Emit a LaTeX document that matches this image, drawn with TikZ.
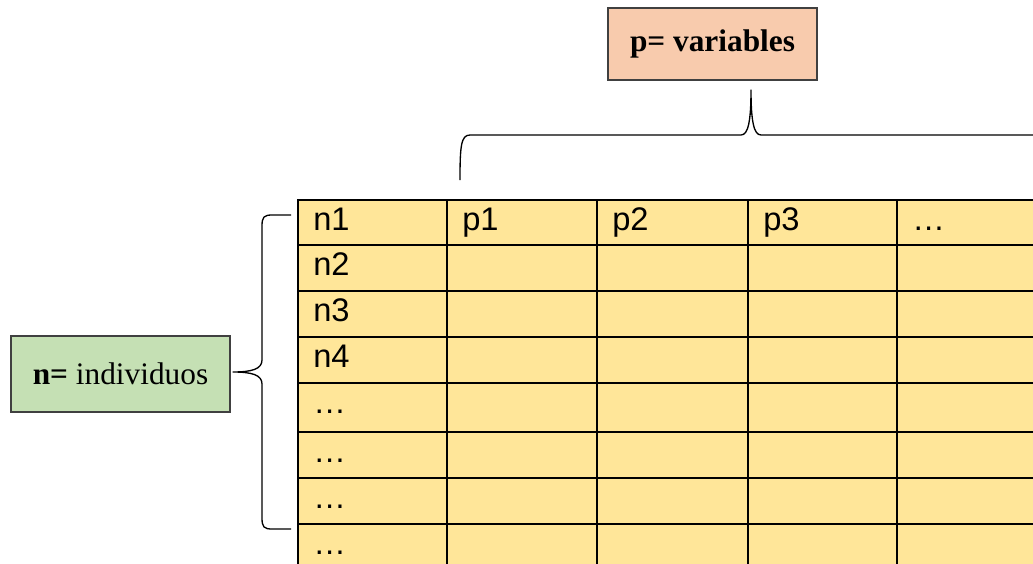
\documentclass[tikz,border=0pt]{standalone}
\usepackage{fontspec}
\setmainfont{Liberation Serif}
\setsansfont{Liberation Sans}
\usepackage{tikz}
\usetikzlibrary{
    arrows.meta,
    positioning
}
\usepackage{xcolor}
\definecolor{cellyellow}{RGB}{255,230,153}
\definecolor{boxgreen}{RGB}{197,224,180}
\definecolor{boxpeach}{RGB}{248,203,173}
\definecolor{boxedge}{RGB}{64,64,64}

\tikzset{
    labelbox/.style={draw=boxedge, line width=0.8pt, inner sep=0pt,
        font=\fontsize{23.5}{28}\selectfont},
    celltext/.style={anchor=base west, inner sep=0pt,
        font=\sffamily\fontsize{24.5}{29}\selectfont},
    gridline/.style={line width=1.8pt},
    curly/.style={line width=1pt, line join=round}
}

\begin{document}
\begin{tikzpicture}[x=0.75pt, y=-0.75pt]
\useasboundingbox (0,0) rectangle (1033,564);
\clip (0,0) rectangle (1033,564);

% Table (runs off the right and bottom)
\fill[cellyellow] (298,200) rectangle (1060,580);
\foreach \x in {298,447,597,748,897} {\draw[gridline] (\x,200) -- (\x,580);}
\foreach \y in {200,245,291,337,383,432,478,524} {\draw[gridline] (297,\y) -- (1060,\y);}

% Row labels
\foreach \name/\txt/\y in {n1/n1/230, n2/n2/275, n3/n3/321, n4/n4/367,
        r5/…/413, r6/…/462, r7/…/508, r8/…/554}
    {\node[celltext] (\name) at (313,\y) {\txt};}

% Column labels
\foreach \name/\txt/\x in {p1/p1/462, p2/p2/612, p3/p3/763, pn/…/912}
    {\node[celltext] (\name) at (\x,230) {\txt};}

% Boxes
\node[labelbox, fill=boxpeach, minimum width=156.75pt, minimum height=54pt]
    (pbox) at (712.5,44) {\textbf{p= variables}};
\node[labelbox, fill=boxgreen, minimum width=164.25pt, minimum height=57pt]
    (nbox) at (120.5,374) {\textbf{n=} individuos};

% Brace over the columns
\coordinate (pleft) at (460,180);
\coordinate (ptip) at (751,90);
\coordinate (pright) at (1045,135);
\draw[curly] (pleft) .. controls (460,146) and (461,135) .. (470,135)
    -- (741,135) .. controls (748,135) and (751,122) .. (ptip)
    .. controls (751,122) and (754,135) .. (761,135) -- (pright);

% Brace beside the rows
\coordinate (ntop) at (291,215);
\coordinate (ntip) at (233,372);
\coordinate (nbot) at (291,529);
\draw[curly] (ntop) -- (272,215) .. controls (264,215) and (262,217) .. (262,226)
    -- (262,360) .. controls (262,369) and (252,372) .. (ntip)
    .. controls (252,372) and (262,375) .. (262,384)
    -- (262,518) .. controls (262,527) and (264,529) .. (272,529) -- (nbot);

\end{tikzpicture}
\end{document}
